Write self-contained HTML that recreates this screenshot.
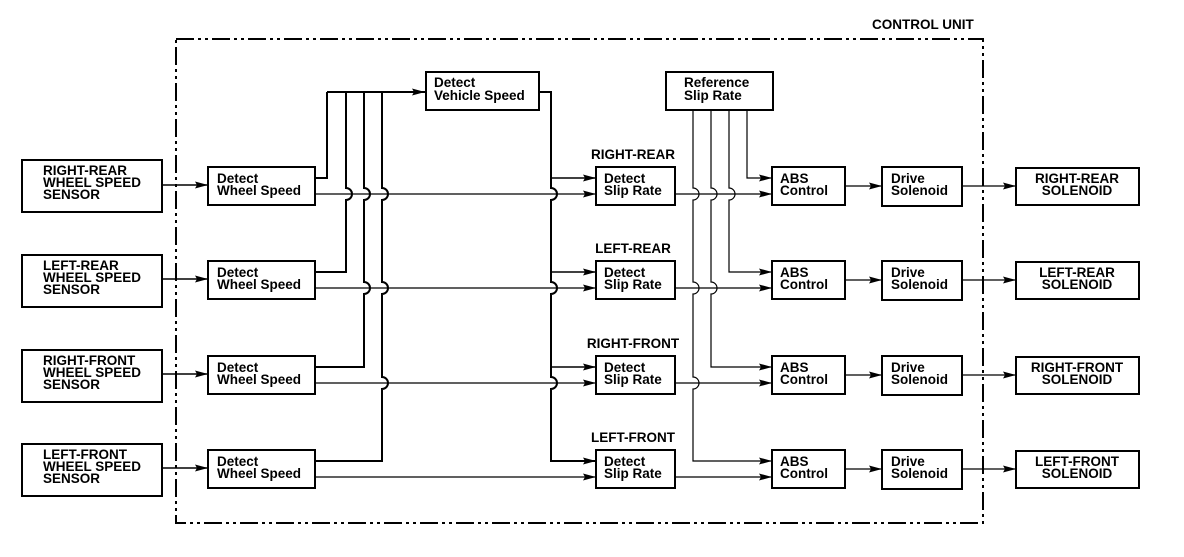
<!DOCTYPE html>
<html><head><meta charset="utf-8"><style>
html,body{margin:0;padding:0;background:#fff}
svg text{font-family:"Liberation Sans",sans-serif;font-weight:bold;font-size:13.5px;fill:#000}
</style></head><body>
<svg width="1184" height="552" viewBox="0 0 1184 552" xmlns="http://www.w3.org/2000/svg">
<defs><marker id="a" markerWidth="14" markerHeight="10" refX="13" refY="5" orient="auto" markerUnits="userSpaceOnUse"><path d="M0,1.5 L13,5 L0,8.5 L2,5 Z" fill="#000"/></marker></defs>
<rect x="176" y="39" width="807" height="484" fill="none" stroke="#000" stroke-width="2" stroke-dasharray="18 4 3 4 3 4"/>
<text x="872" y="29">CONTROL UNIT</text>
<g fill="none" stroke="#000" stroke-width="2">
<rect x="426" y="72" width="113" height="38"/>
<rect x="666" y="72" width="107" height="38"/>
<rect x="22" y="160" width="140" height="52"/>
<rect x="22" y="255" width="140" height="52"/>
<rect x="22" y="350" width="140" height="52"/>
<rect x="22" y="444" width="140" height="52"/>
<rect x="208" y="167" width="107" height="38"/>
<rect x="208" y="261" width="107" height="38"/>
<rect x="208" y="356" width="107" height="38"/>
<rect x="208" y="450" width="107" height="38"/>
<rect x="596" y="167" width="79" height="38"/>
<rect x="596" y="261" width="79" height="38"/>
<rect x="596" y="356" width="79" height="38"/>
<rect x="596" y="450" width="79" height="38"/>
<rect x="772" y="167" width="73" height="38"/>
<rect x="772" y="261" width="73" height="38"/>
<rect x="772" y="356" width="73" height="38"/>
<rect x="772" y="450" width="73" height="38"/>
<rect x="882" y="167" width="80" height="39"/>
<rect x="882" y="261" width="80" height="39"/>
<rect x="882" y="356" width="80" height="39"/>
<rect x="882" y="450" width="80" height="39"/>
<rect x="1016" y="168" width="123" height="37"/>
<rect x="1016" y="262" width="123" height="37"/>
<rect x="1016" y="357" width="123" height="37"/>
<rect x="1016" y="451" width="123" height="37"/>
<path d="M315,178 H327 V92"/>
<path d="M346,92 V188 A6,6 0 0 1 346,200 V272 H315"/>
<path d="M364,92 V188 A6,6 0 0 1 364,200 V282 A6,6 0 0 1 364,294 V367 H315"/>
<path d="M382,92 V188 A6,6 0 0 1 382,200 V282 A6,6 0 0 1 382,294 V377 A6,6 0 0 1 382,389 V461 H315"/>
<path d="M327,92 H425" marker-end="url(#a)"/>
<path d="M539,92 H551 V188 A6,6 0 0 1 551,200 V282 A6,6 0 0 1 551,294 V377 A6,6 0 0 1 551,389 V461 H596" marker-end="url(#a)"/>
</g>
<g fill="none" stroke="#000" stroke-width="1.5">
<path d="M551,178 H596" marker-end="url(#a)"/>
<path d="M551,272 H596" marker-end="url(#a)"/>
<path d="M551,367 H596" marker-end="url(#a)"/>
<path d="M162,185 H208" marker-end="url(#a)"/>
<path d="M162,279 H208" marker-end="url(#a)"/>
<path d="M162,374 H208" marker-end="url(#a)"/>
<path d="M162,468 H208" marker-end="url(#a)"/>
</g>
<g fill="none" stroke="#000" stroke-width="1.2">
<path d="M315,194 H596" marker-end="url(#a)"/>
<path d="M315,288 H596" marker-end="url(#a)"/>
<path d="M315,383 H596" marker-end="url(#a)"/>
<path d="M315,477 H596" marker-end="url(#a)"/>
<path d="M675,194 H772" marker-end="url(#a)"/>
<path d="M675,288 H772" marker-end="url(#a)"/>
<path d="M675,383 H772" marker-end="url(#a)"/>
<path d="M675,477 H772" marker-end="url(#a)"/>
<path d="M747,110 V178 H772" marker-end="url(#a)"/>
<path d="M729,110 V188 A6,6 0 0 1 729,200 V272 H772" marker-end="url(#a)"/>
<path d="M711,110 V188 A6,6 0 0 1 711,200 V282 A6,6 0 0 1 711,294 V367 H772" marker-end="url(#a)"/>
<path d="M693,110 V188 A6,6 0 0 1 693,200 V282 A6,6 0 0 1 693,294 V377 A6,6 0 0 1 693,389 V461 H772" marker-end="url(#a)"/>
<path d="M845,186 H882" marker-end="url(#a)"/>
<path d="M845,280 H882" marker-end="url(#a)"/>
<path d="M845,375 H882" marker-end="url(#a)"/>
<path d="M845,469 H882" marker-end="url(#a)"/>
<path d="M962,186 H1016" marker-end="url(#a)"/>
<path d="M962,280 H1016" marker-end="url(#a)"/>
<path d="M962,375 H1016" marker-end="url(#a)"/>
<path d="M962,469 H1016" marker-end="url(#a)"/>
</g>
<text x="434" y="87">Detect</text><text x="434" y="100">Vehicle Speed</text>
<text x="684" y="87">Reference</text><text x="684" y="100">Slip Rate</text>

<text x="43" y="175">RIGHT-REAR</text><text x="43" y="187">WHEEL SPEED</text><text x="43" y="199">SENSOR</text>
<text x="43" y="270">LEFT-REAR</text><text x="43" y="282">WHEEL SPEED</text><text x="43" y="294">SENSOR</text>
<text x="43" y="365">RIGHT-FRONT</text><text x="43" y="377">WHEEL SPEED</text><text x="43" y="389">SENSOR</text>
<text x="43" y="459">LEFT-FRONT</text><text x="43" y="471">WHEEL SPEED</text><text x="43" y="483">SENSOR</text>

<text x="217" y="183">Detect</text><text x="217" y="195">Wheel Speed</text>
<text x="217" y="277">Detect</text><text x="217" y="289">Wheel Speed</text>
<text x="217" y="372">Detect</text><text x="217" y="384">Wheel Speed</text>
<text x="217" y="466">Detect</text><text x="217" y="478">Wheel Speed</text>

<text x="633" y="159" text-anchor="middle">RIGHT-REAR</text>
<text x="633" y="253" text-anchor="middle">LEFT-REAR</text>
<text x="633" y="348" text-anchor="middle">RIGHT-FRONT</text>
<text x="633" y="442" text-anchor="middle">LEFT-FRONT</text>

<text x="604" y="183">Detect</text><text x="604" y="195">Slip Rate</text>
<text x="604" y="277">Detect</text><text x="604" y="289">Slip Rate</text>
<text x="604" y="372">Detect</text><text x="604" y="384">Slip Rate</text>
<text x="604" y="466">Detect</text><text x="604" y="478">Slip Rate</text>

<text x="780" y="183">ABS</text><text x="780" y="195">Control</text>
<text x="780" y="277">ABS</text><text x="780" y="289">Control</text>
<text x="780" y="372">ABS</text><text x="780" y="384">Control</text>
<text x="780" y="466">ABS</text><text x="780" y="478">Control</text>

<text x="891" y="183">Drive</text><text x="891" y="195">Solenoid</text>
<text x="891" y="277">Drive</text><text x="891" y="289">Solenoid</text>
<text x="891" y="372">Drive</text><text x="891" y="384">Solenoid</text>
<text x="891" y="466">Drive</text><text x="891" y="478">Solenoid</text>

<text x="1077" y="183" text-anchor="middle">RIGHT-REAR</text><text x="1077" y="195" text-anchor="middle">SOLENOID</text>
<text x="1077" y="277" text-anchor="middle">LEFT-REAR</text><text x="1077" y="289" text-anchor="middle">SOLENOID</text>
<text x="1077" y="372" text-anchor="middle">RIGHT-FRONT</text><text x="1077" y="384" text-anchor="middle">SOLENOID</text>
<text x="1077" y="466" text-anchor="middle">LEFT-FRONT</text><text x="1077" y="478" text-anchor="middle">SOLENOID</text>
</svg>
</body></html>
